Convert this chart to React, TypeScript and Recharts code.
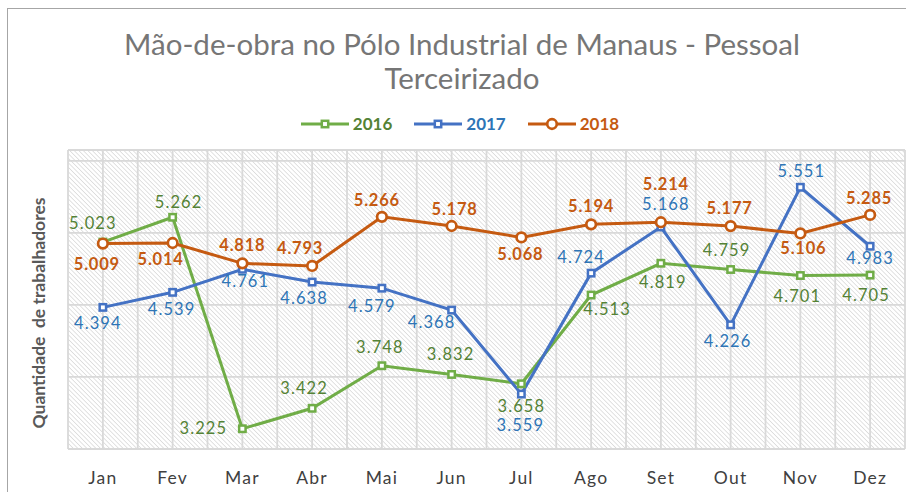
import { LineChart, Line, XAxis, YAxis, CartesianGrid, LabelList } from "recharts";

const MONTHS = ["Jan", "Fev", "Mar", "Abr", "Mai", "Jun", "Jul", "Ago", "Set", "Out", "Nov", "Dez"];

// values as plotted (Mai/Jun of 2016 sit swapped against their labels in the source)
const Y2016 = [5.023, 5.262, 3.225, 3.422, 3.832, 3.748, 3.658, 4.513, 4.819, 4.759, 4.701, 4.705];
const Y2017 = [4.394, 4.539, 4.761, 4.638, 4.579, 4.368, 3.559, 4.724, 5.168, 4.226, 5.551, 4.983];
const Y2018 = [5.009, 5.014, 4.818, 4.793, 5.266, 5.178, 5.068, 5.194, 5.214, 5.177, 5.106, 5.285];

const T2016 = ["5.023", "5.262", "3.225", "3.422", "3.748", "3.832", "3.658", "4.513", "4.819", "4.759", "4.701", "4.705"];
const T2017 = Y2017.map((v) => v.toFixed(3));
const T2018 = Y2018.map((v) => v.toFixed(3));

const Y_DOMAIN = [3.03, 5.91];
const Y_TICKS = [3.03, 3.724, 4.418, 5.112, 5.806];

// label placement relative to the marker [dx, dy]
const OFF2016 = [[-10, -19], [6, -15], [-39, -1], [-8, -20], [-2, -19], [-1, -20], [0, 22], [16, 14], [2, 19], [-4, -19], [-3, 20], [-4, 20]];
const OFF2017 = [[-5, 16], [-1, 17], [3, 12], [-8, 16], [-10, 18], [-20, 12], [-1, 31], [-10, -16], [5, -23], [-3, 16], [1, -16], [0, 12]];
const OFF2018 = [[-6, 20], [-12, 16], [0, -18], [-12, -18], [-5, -17], [3, -17], [-1, 17], [0, -18], [5, -38], [-1, -18], [3, 15], [-1, -17]];

const data = MONTHS.map((m, i) => ({ month: m, a: Y2016[i], b: Y2017[i], c: Y2018[i] }));

const GREEN = "#70ad47";
const GREEN_TXT = "#548235";
const BLUE = "#4472c4";
const BLUE_TXT = "#2e75b6";
const ORANGE = "#c55a11";
const FONT = "Lato, 'Open Sans', sans-serif";

const PLOT_LEFT = 68;
const PLOT_RIGHT = 905;
const HALF_BAND = (PLOT_RIGHT - PLOT_LEFT) / MONTHS.length / 2;

const SERIES = [
  { key: "a", name: "2016", color: GREEN, text: GREEN_TXT, shape: "square", labels: T2016, off: OFF2016, bold: false },
  { key: "b", name: "2017", color: BLUE, text: BLUE_TXT, shape: "square", labels: T2017, off: OFF2017, bold: false },
  { key: "c", name: "2018", color: ORANGE, text: ORANGE, shape: "circle", labels: T2018, off: OFF2018, bold: true },
];

function Marker({ cx, cy, color, shape }: any) {
  if (cx == null || cy == null) return null;
  if (shape === "circle")
    return <circle cx={cx} cy={cy} r={4.8} fill="#fff" stroke={color} strokeWidth={2.7} />;
  return <rect x={cx - 3.2} y={cy - 3.2} width={6.4} height={6.4} fill="#fff" stroke={color} strokeWidth={2.5} />;
}

function LegendBox() {
  return (
    <div
      style={{
        position: "absolute",
        top: 113,
        left: 0,
        width: 920,
        display: "flex",
        justifyContent: "center",
        gap: 22,
        fontFamily: FONT,
        fontWeight: 700,
        fontSize: 17,
      }}
    >
      {SERIES.map((s) => (
        <div key={s.key} style={{ display: "flex", alignItems: "center", gap: 4 }}>
          <svg width={48} height={14}>
            <line x1={0} y1={7} x2={48} y2={7} stroke={s.color} strokeWidth={3} />
            <Marker cx={24} cy={7} color={s.color} shape={s.shape} />
          </svg>
          <span style={{ color: s.text }}>{s.name}</span>
        </div>
      ))}
    </div>
  );
}

export default function App() {
  return (
    <div style={{ position: "fixed", left: 0, top: 0, width: 906, height: 492, overflow: "hidden", background: "#fff" }}>
      <div
        style={{
          position: "absolute",
          left: 7,
          top: 8,
          width: 960,
          height: 540,
          border: "1.5px solid #a6a6a6",
        }}
      />
      <div
        style={{
          position: "absolute",
          left: 0,
          top: 27,
          width: 924,
          textAlign: "center",
          fontFamily: FONT,
          fontSize: 29.5,
          lineHeight: "34px",
          color: "#767676",
        }}
      >
        Mão-de-obra no Pólo Industrial de Manaus - Pessoal
        <br />
        Terceirizado
      </div>
      <LegendBox />
      <div style={{ position: "absolute", left: 0, top: 0 }}>
        <LineChart width={906} height={492} data={data} margin={{ top: 150, right: 906 - PLOT_RIGHT, bottom: 0, left: PLOT_LEFT }}>
          <defs>
            <pattern id="hatch" width={3.2} height={3.2} patternUnits="userSpaceOnUse" patternTransform="rotate(-45)">
              <rect width={3.2} height={3.2} fill="#ffffff" />
              <line x1={0} y1={0} x2={0} y2={3.2} stroke="#cfcfcf" strokeWidth={1.2} />
            </pattern>
          </defs>
          <CartesianGrid
            fill="url(#hatch)"
            fillOpacity={1}
            stroke="#d9d9d9"
            strokeWidth={1.8}
            verticalCoordinatesGenerator={() =>
              Array.from({ length: MONTHS.length * 2 + 1 }, (_, k) => PLOT_LEFT + k * HALF_BAND)
            }
          />
          <XAxis
            dataKey="month"
            height={43}
            axisLine={false}
            tickLine={false}
            tickSize={0}
            tickMargin={23}
            interval={0}
            padding={{ left: HALF_BAND, right: HALF_BAND }}
            tick={{ fontFamily: FONT, fontSize: 17.5, fill: "#404040", letterSpacing: 1.2 }}
          />
          <YAxis hide domain={Y_DOMAIN} ticks={Y_TICKS} type="number" allowDataOverflow />
          {SERIES.map((s) => (
            <Line
              key={s.key}
              dataKey={s.key}
              name={s.name}
              stroke={s.color}
              strokeWidth={3}
              isAnimationActive={false}
              dot={(p: any) => <Marker key={`${s.key}-${p.index}`} cx={p.cx} cy={p.cy} color={s.color} shape={s.shape} />}
              activeDot={false}
            >
              <LabelList
                dataKey={s.key}
                content={(p: any) => {
                  const i = p.index;
                  const [dx, dy] = s.off[i];
                  return (
                    <text
                      x={p.x + dx}
                      y={p.y + dy}
                      textAnchor="middle"
                      dominantBaseline="central"
                      fontFamily={FONT}
                      fontSize={16.5}
                      fontWeight={s.bold ? 700 : 400}
                      letterSpacing={s.bold ? 0.8 : 1.1}
                      fill={s.text}
                    >
                      {s.labels[i]}
                    </text>
                  );
                }}
              />
            </Line>
          ))}
        </LineChart>
      </div>
      <div
        style={{
          position: "absolute",
          left: 38,
          top: 313,
          transform: "translate(-50%, -50%) rotate(-90deg)",
          whiteSpace: "pre",
          fontFamily: FONT,
          fontWeight: 700,
          fontSize: 17.5,
          color: "#595959",
        }}
      >
        {"Quantidade  de trabalhadores"}
      </div>
    </div>
  );
}
